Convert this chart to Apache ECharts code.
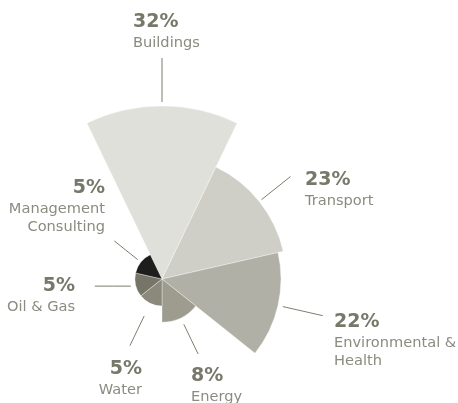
<!DOCTYPE html>
<html>
<head>
<meta charset="utf-8">
<style>
  html, body { margin: 0; padding: 0; background: #ffffff; }
  #chart { width: 458px; height: 403px; }
</style>
<script src="https://cdn.jsdelivr.net/npm/echarts@6/dist/echarts.min.js"></script>
</head>
<body>
<div id="chart"></div>
<script>
// Share of work by sector (percent)
const sectors = ['Buildings', 'Transport', 'Environmental &\nHealth', 'Energy', 'Water', 'Oil & Gas', 'Management\nConsulting'];
const shares = [32, 23, 22, 8, 5, 5, 5];

// Sector fills, lightest to darkest going round the rose
const fills = ['#e0e0da', '#cfcfc7', '#b0b0a6', '#9d9c8e', '#8a897b', '#767567', '#1e1e1c'];

// Label placement: anchor x, top y, alignment; leader line gap and length
const labelSpots = [
  { x: 133, y: 11,  align: 'left'  },
  { x: 305, y: 169, align: 'left'  },
  { x: 334, y: 311, align: 'left'  },
  { x: 191, y: 365, align: 'left'  },
  { x: 142, y: 358, align: 'right' },
  { x: 75,  y: 275, align: 'right' },
  { x: 105, y: 177, align: 'right' }
];
const leaders = [
  { gap: 4,  len: 44 },
  { gap: 3,  len: 37 },
  { gap: 5,  len: 41 },
  { gap: 7,  len: 33 },
  { gap: 14, len: 33 },
  { gap: 5,  len: 36, flat: true },
  { gap: 4,  len: 30 }
];

const CX = 162, CY = 279, R = 173;

const chart = echarts.init(document.getElementById('chart'), null, { renderer: 'canvas' });

chart.setOption({
  animation: false,
  series: [{
    type: 'pie',
    roseType: 'area',
    center: [CX, CY],
    radius: [0, R],
    startAngle: 90 + 360 / (shares.length * 2),
    clockwise: true,
    avoidLabelOverlap: false,
    itemStyle: { borderColor: 'rgba(255,255,255,0.6)', borderWidth: 0.6 },
    label: {
      show: true,
      position: 'outside',
      formatter: function (p) {
        const lines = p.name.split('\n').map(function (s) { return '{n|' + s + '}'; });
        return '{p|' + p.value + '%}\n' + lines.join('\n');
      },
      rich: {
        p: { fontFamily: 'DejaVu Sans', fontWeight: 'bold', fontSize: 19, lineHeight: 23, color: '#77776a' },
        n: { fontFamily: 'DejaVu Sans', fontSize: 14.6, lineHeight: 18, color: '#8b8b80' }
      }
    },
    labelLine: {
      show: true,
      length: 10,
      length2: 0,
      lineStyle: { color: '#7d7d6f', width: 1 }
    },
    labelLayout: function (params) {
      const i = params.dataIndex;
      const spot = labelSpots[i];
      const ld = leaders[i];
      const edge = params.labelLinePoints[0];
      const dx = edge[0] - CX, dy = edge[1] - CY;
      const r0 = Math.sqrt(dx * dx + dy * dy);
      const ux = dx / r0, uy = dy / r0;
      const start = [CX + ux * (r0 + ld.gap), CY + uy * (r0 + ld.gap)];
      let end;
      if (ld.flat) {
        end = [start[0] + (ux < 0 ? -ld.len : ld.len), start[1]];
      } else {
        end = [CX + ux * (r0 + ld.gap + ld.len), CY + uy * (r0 + ld.gap + ld.len)];
      }
      const mid = [(start[0] + end[0]) / 2, (start[1] + end[1]) / 2];
      return {
        x: spot.x,
        y: spot.y,
        align: spot.align,
        verticalAlign: 'top',
        labelLinePoints: [start, mid, end]
      };
    },
    data: sectors.map(function (name, i) {
      return { name: name, value: shares[i], itemStyle: { color: fills[i] } };
    })
  }]
});
</script>
</body>
</html>
